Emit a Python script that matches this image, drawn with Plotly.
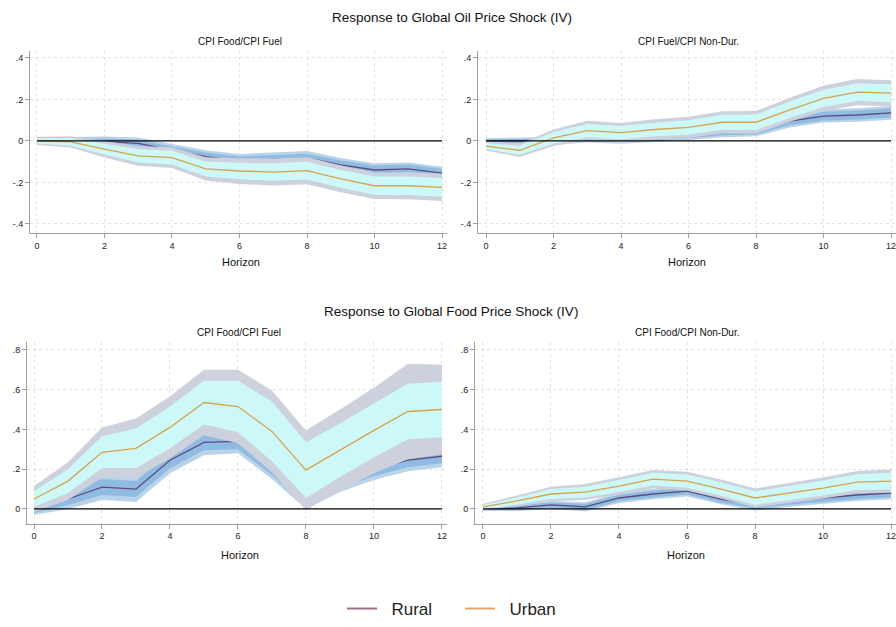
import plotly.graph_objects as go
from plotly.subplots import make_subplots

horizon = list(range(13))

# Global oil price shock, CPI Food/CPI Fuel
oil_food_rural = [0.0, 0.0, -0.003, -0.012, -0.045, -0.076, -0.095, -0.088, -0.082, -0.115, -0.14, -0.135, -0.155]
oil_food_rural_w68 = [0.01, 0.012, 0.015, 0.018, 0.018, 0.02, 0.02, 0.02, 0.02, 0.021, 0.021, 0.021, 0.021]
oil_food_rural_w90 = [0.016, 0.02, 0.024, 0.028, 0.03, 0.031, 0.032, 0.033, 0.033, 0.033, 0.032, 0.031, 0.03]
oil_food_urban = [0.0, -0.005, -0.04, -0.072, -0.08, -0.135, -0.145, -0.15, -0.143, -0.183, -0.216, -0.216, -0.224]
oil_food_urban_w68 = [0.012, 0.018, 0.026, 0.032, 0.033, 0.036, 0.04, 0.042, 0.043, 0.043, 0.044, 0.044, 0.045]
oil_food_urban_w90 = [0.02, 0.027, 0.04, 0.048, 0.05, 0.056, 0.062, 0.065, 0.066, 0.064, 0.064, 0.065, 0.066]

# Global oil price shock, CPI Fuel/CPI Non-Dur.
oil_fuel_rural = [0.0, 0.0, 0.0, 0.015, 0.01, 0.02, 0.03, 0.045, 0.05, 0.095, 0.12, 0.125, 0.135]
oil_fuel_rural_w68 = [0.008, 0.01, 0.012, 0.014, 0.015, 0.016, 0.017, 0.018, 0.019, 0.02, 0.021, 0.022, 0.022]
oil_fuel_rural_w90 = [0.013, 0.016, 0.019, 0.022, 0.023, 0.025, 0.026, 0.027, 0.028, 0.03, 0.031, 0.032, 0.033]
oil_fuel_urban = [-0.025, -0.045, 0.015, 0.05, 0.04, 0.055, 0.065, 0.09, 0.09, 0.15, 0.205, 0.235, 0.23]
oil_fuel_urban_w68 = [0.015, 0.022, 0.028, 0.032, 0.032, 0.033, 0.035, 0.036, 0.037, 0.04, 0.042, 0.043, 0.043]
oil_fuel_urban_w90 = [0.022, 0.032, 0.04, 0.047, 0.047, 0.049, 0.051, 0.053, 0.054, 0.058, 0.061, 0.063, 0.063]

# Global food price shock, CPI Food/CPI Fuel
food_fuel_rural = [0.0, 0.05, 0.11, 0.10, 0.245, 0.335, 0.34, 0.21, 0.06, 0.14, 0.2, 0.245, 0.265]
food_fuel_rural_w68 = [0.02, 0.03, 0.04, 0.04, 0.04, 0.04, 0.04, 0.04, 0.04, 0.035, 0.035, 0.035, 0.035]
food_fuel_rural_w90 = [0.03, 0.05, 0.065, 0.065, 0.065, 0.065, 0.06, 0.06, 0.06, 0.055, 0.055, 0.055, 0.055]
food_fuel_urban = [0.05, 0.14, 0.285, 0.305, 0.41, 0.535, 0.515, 0.39, 0.195, 0.295, 0.395, 0.49, 0.50]
food_fuel_urban_w68 = [0.04, 0.06, 0.08, 0.1, 0.105, 0.11, 0.13, 0.15, 0.14, 0.135, 0.135, 0.14, 0.14]
food_fuel_urban_w90 = [0.065, 0.095, 0.125, 0.15, 0.155, 0.165, 0.185, 0.205, 0.2, 0.205, 0.215, 0.24, 0.225]

# Global food price shock, CPI Food/CPI Non-Dur.
food_nondur_rural = [0.0, 0.005, 0.02, 0.01, 0.055, 0.075, 0.09, 0.05, 0.02, 0.04, 0.055, 0.07, 0.08]
food_nondur_rural_w68 = [0.006, 0.01, 0.013, 0.015, 0.016, 0.017, 0.018, 0.018, 0.018, 0.019, 0.02, 0.02, 0.021]
food_nondur_rural_w90 = [0.01, 0.016, 0.02, 0.023, 0.025, 0.026, 0.027, 0.027, 0.028, 0.029, 0.03, 0.03, 0.031]
food_nondur_urban = [0.01, 0.04, 0.075, 0.085, 0.115, 0.15, 0.14, 0.10, 0.055, 0.08, 0.105, 0.135, 0.14]
food_nondur_urban_w68 = [0.01, 0.018, 0.025, 0.027, 0.03, 0.032, 0.033, 0.034, 0.034, 0.036, 0.038, 0.04, 0.042]
food_nondur_urban_w90 = [0.016, 0.027, 0.037, 0.04, 0.044, 0.046, 0.047, 0.048, 0.048, 0.05, 0.053, 0.056, 0.058]

x_ticks = [0, 2, 4, 6, 8, 10, 12]
oil_y_ticks = [-0.4, -0.2, 0, 0.2, 0.4]
oil_y_labels = ["-.4", "-.2", "0", ".2", ".4"]
food_y_ticks = [0, 0.2, 0.4, 0.6, 0.8]
food_y_labels = ["0", ".2", ".4", ".6", ".8"]

RURAL_90 = "#b9d4e9"
RURAL_68 = "#8fbbe2"
URBAN_90 = "#ccd1dc"
URBAN_68 = "#cdf8f9"
RURAL_LINE = "#5e4c7e"
URBAN_LINE = "#d8a247"
FONT = "Liberation Sans, Arial, sans-serif"

W, H = 896, 627


def py(y):
    return 1 - y / H


def add_band(fig, est, width, color, row, col):
    # closed polygon: upper edge forward, lower edge back
    lo = [e - w for e, w in zip(est, width)]
    hi = [e + w for e, w in zip(est, width)]
    fig.add_trace(go.Scatter(x=horizon + horizon[::-1], y=hi + lo[::-1], mode="lines",
                             line=dict(width=0, color=color), fill="toself", fillcolor=color,
                             showlegend=False, hoverinfo="skip"), row=row, col=col)


panels = [
    (1, 1, oil_food_rural, oil_food_rural_w68, oil_food_rural_w90,
     oil_food_urban, oil_food_urban_w68, oil_food_urban_w90),
    (1, 2, oil_fuel_rural, oil_fuel_rural_w68, oil_fuel_rural_w90,
     oil_fuel_urban, oil_fuel_urban_w68, oil_fuel_urban_w90),
    (2, 1, food_fuel_rural, food_fuel_rural_w68, food_fuel_rural_w90,
     food_fuel_urban, food_fuel_urban_w68, food_fuel_urban_w90),
    (2, 2, food_nondur_rural, food_nondur_rural_w68, food_nondur_rural_w90,
     food_nondur_urban, food_nondur_urban_w68, food_nondur_urban_w90),
]

fig = make_subplots(rows=2, cols=2)

for row, col, rural, r68, r90, urban, u68, u90 in panels:
    add_band(fig, rural, r90, RURAL_90, row, col)
    add_band(fig, rural, r68, RURAL_68, row, col)
    fig.add_trace(go.Scatter(x=horizon, y=rural, mode="lines", line=dict(color=RURAL_LINE, width=1.3),
                             showlegend=False), row=row, col=col)
    add_band(fig, urban, u90, URBAN_90, row, col)
    add_band(fig, urban, u68, URBAN_68, row, col)
    fig.add_trace(go.Scatter(x=horizon, y=urban, mode="lines", line=dict(color=URBAN_LINE, width=1.3),
                             showlegend=False), row=row, col=col)

# legend entries
fig.add_trace(go.Scatter(x=[None], y=[None], mode="lines", name="\u00a0\u00a0Rural", legendrank=1,
                         line=dict(color="#a0708a", width=2)), row=1, col=1)
fig.add_trace(go.Scatter(x=[None], y=[None], mode="lines", name="\u00a0\u00a0Urban", legendrank=2,
                         line=dict(color="#e3a866", width=2)), row=1, col=1)

axis_common = dict(showline=True, linecolor="#a0a0a0", linewidth=1, ticks="outside", ticklen=4,
                   tickcolor="#a0a0a0", showgrid=True, gridcolor="#e2e2e2", griddash="dot",
                   gridwidth=1, zeroline=False, tickfont=dict(size=9, color="#222", family=FONT))

domains_x = {1: [30 / W, 447 / W], 2: [478 / W, 1.0], 3: [27 / W, 447 / W], 4: [475 / W, 1.0]}
ranges_x = {1: [-0.207, 12.148], 2: [-0.237, 12.148], 3: [-0.206, 12.15], 4: [-0.235, 12.147]}
top_dom, bot_dom = [py(237), py(52)], [py(533), py(348)]

for i in range(1, 5):
    sfx = "" if i == 1 else str(i)
    top = i <= 2
    fig.layout["xaxis" + sfx].update(domain=domains_x[i], range=ranges_x[i], tickvals=x_ticks,
                                     ticklabeloverflow="allow", **axis_common)
    fig.layout["yaxis" + sfx].update(
        domain=top_dom if top else bot_dom,
        range=[-0.443, 0.433] if top else [-0.074, 0.84],
        tickvals=oil_y_ticks if top else food_y_ticks,
        ticktext=oil_y_labels if top else food_y_labels,
        **axis_common)
    fig.add_shape(type="line", xref="x" + sfx, yref="y" + sfx, x0=0, x1=12, y0=0, y1=0,
                  line=dict(color="black", width=1.3), layer="above")


def label(text, x, y, size):
    fig.add_annotation(text=text, x=x / W, y=py(y), xref="paper", yref="paper",
                       showarrow=False, xanchor="center", yanchor="middle",
                       font=dict(size=size, color="#111", family=FONT))


label("Response to Global Oil Price Shock (IV)", 452, 18, 13.5)
label("Response to Global Food Price Shock (IV)", 451, 317, 13.5)
label("CPI Food/CPI Fuel", 240, 42, 10)
label("CPI Fuel/CPI Non-Dur.", 688, 42, 10)
label("CPI Food/CPI Fuel", 239, 338, 10)
label("CPI Food/CPI Non-Dur.", 687, 338, 10)
for hx, hy in [(241, 267), (687, 267), (240, 565), (686, 565)]:
    label("Horizon", hx, hy, 11)

fig.update_layout(
    width=W, height=H,
    margin=dict(l=0, r=0, t=0, b=0),
    plot_bgcolor="white", paper_bgcolor="white",
    font=dict(family=FONT),
    legend=dict(orientation="h", x=0.5 + 12 / W, xanchor="center", y=py(620), yanchor="middle",
                traceorder="normal", font=dict(size=17, color="#222", family=FONT), itemwidth=30,
                entrywidth=73),
)

fig.write_html("out.html", config={"displayModeBar": False},
               post_script="document.body.style.margin='0';document.body.style.overflow='hidden';")
